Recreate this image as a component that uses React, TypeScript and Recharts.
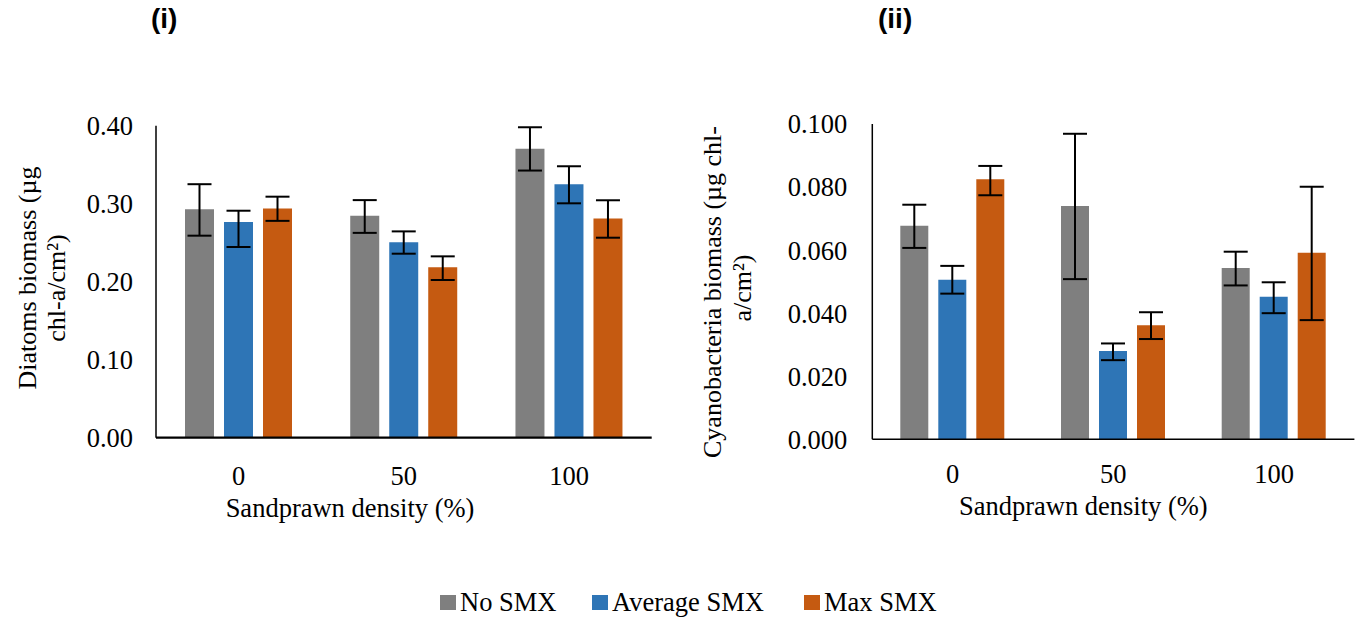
import React from 'react';
import { BarChart, Bar, XAxis, YAxis, ErrorBar, Label } from 'recharts';

// ---------- data ----------
const categories = ['0', '50', '100'];

// (i) Diatoms biomass
const diatomsNoSMX = [0.293, 0.2846, 0.3705];
const diatomsNoSMXErr = [[0.034, 0.032], [0.022, 0.020], [0.028, 0.0275]];
const diatomsAvgSMX = [0.2765, 0.2505, 0.325];
const diatomsAvgSMXErr = [[0.032, 0.0145], [0.0146, 0.014], [0.0245, 0.023]];
const diatomsMaxSMX = [0.294, 0.2185, 0.281];
const diatomsMaxSMXErr = [[0.016, 0.015], [0.0163, 0.014], [0.0246, 0.0234]];
const diatomsTicks = [0, 0.1, 0.2, 0.3, 0.4];

// (ii) Cyanobacteria biomass
const cyanoNoSMX = [0.0677, 0.074, 0.0543];
const cyanoNoSMXErr = [[0.007, 0.0067], [0.0232, 0.0229], [0.0055, 0.0052]];
const cyanoAvgSMX = [0.0506, 0.028, 0.0452];
const cyanoAvgSMXErr = [[0.0044, 0.0044], [0.0029, 0.0024], [0.0052, 0.0046]];
const cyanoMaxSMX = [0.0825, 0.0362, 0.0592];
const cyanoMaxSMXErr = [[0.0051, 0.0042], [0.0044, 0.0041], [0.0214, 0.0209]];
const cyanoTicks = [0, 0.02, 0.04, 0.06, 0.08, 0.1];

const seriesNames = ['No SMX', 'Average SMX', 'Max SMX'];
const seriesColors = ['#7f7f7f', '#2e75b6', '#c55a11'];

const diatomsData = categories.map((c, i) => ({
  cat: c,
  no: diatomsNoSMX[i], noErr: diatomsNoSMXErr[i],
  avg: diatomsAvgSMX[i], avgErr: diatomsAvgSMXErr[i],
  max: diatomsMaxSMX[i], maxErr: diatomsMaxSMXErr[i],
}));

const cyanoData = categories.map((c, i) => ({
  cat: c,
  no: cyanoNoSMX[i], noErr: cyanoNoSMXErr[i],
  avg: cyanoAvgSMX[i], avgErr: cyanoAvgSMXErr[i],
  max: cyanoMaxSMX[i], maxErr: cyanoMaxSMXErr[i],
}));

const SERIF = "'Liberation Serif', 'Times New Roman', serif";
const FS = 26.5;
const LFS = 26;

const makeYLabel = (line1: string, line2: string, x1: number, y1: number, x2: number, y2: number) =>
  () => (
    <g>
      <text x={x1} y={y1} transform={`rotate(-90, ${x1}, ${y1})`} textAnchor="middle" dominantBaseline="central"
        fontFamily={SERIF} fontSize={LFS} fill="#000">{line1}</text>
      <text x={x2} y={y2} transform={`rotate(-90, ${x2}, ${y2})`} textAnchor="middle" dominantBaseline="central"
        fontFamily={SERIF} fontSize={LFS} fill="#000">{line2}</text>
    </g>
  );

const makeXLabel = (text: string, dxFromLeft: number, baselineY: number) =>
  (props: any) => {
    const vb = props.viewBox || {};
    return (
      <text x={vb.x + dxFromLeft} y={baselineY} textAnchor="middle" fontFamily={SERIF} fontSize={FS} fill="#000">{text}</text>
    );
  };

const tickStyle = { fontFamily: SERIF, fontSize: FS, fill: '#000' };

function Panel(props: {
  data: any[]; width: number; height: number; margin: any; yWidth: number; ticks: number[]; digits: number;
  barSize: number; yLabel: any; xLabel: any; xTickMargin: number; yTickMargin: number; xStroke: number; yStroke: number;
}) {
  const keys = ['no', 'avg', 'max'];
  return (
    <BarChart width={props.width} height={props.height} data={props.data} margin={props.margin}
      barSize={props.barSize} barGap={10}>
      <XAxis dataKey="cat" tickLine={false} tickSize={0} tickMargin={props.xTickMargin} height={70}
        axisLine={{ stroke: '#000', strokeWidth: props.xStroke }} tick={tickStyle} interval={0}>
        <Label content={props.xLabel} />
      </XAxis>
      <YAxis type="number" domain={[0, props.ticks[props.ticks.length - 1]]} ticks={props.ticks} width={props.yWidth}
        tickLine={false} tickSize={0} tickMargin={props.yTickMargin} interval={0}
        axisLine={{ stroke: '#000', strokeWidth: props.yStroke }} tick={tickStyle}
        tickFormatter={(v: number) => v.toFixed(props.digits)}>
        <Label content={props.yLabel} />
      </YAxis>
      {keys.map((k, i) => (
        <Bar key={k} dataKey={k} name={seriesNames[i]} fill={seriesColors[i]} isAnimationActive={false}>
          <ErrorBar dataKey={k + 'Err'} width={12} strokeWidth={2} stroke="#000" direction="y" isAnimationActive={false} />
        </Bar>
      ))}
    </BarChart>
  );
}

const legendX = [440, 592, 804];

export default function App() {
  return (
    <div style={{ position: 'absolute', left: 0, top: 0, width: 1362, height: 617, background: '#fff', overflow: 'hidden' }}>
      <div style={{ position: 'absolute', left: 0, top: 0 }}>
        <Panel data={diatomsData} width={680} height={560}
          margin={{ top: 125.7, right: 28.3, bottom: 52.3, left: 76 }} yWidth={80}
          ticks={diatomsTicks} digits={2} barSize={29}
          yLabel={makeYLabel('Diatoms biomass (µg', 'chl-a/cm²)', 27, 278, 56, 288)}
          xLabel={makeXLabel('Sandprawn density (%)', 194, 517)}
          xTickMargin={28} yTickMargin={23} xStroke={2.2} yStroke={1.5} />
      </div>
      <div style={{ position: 'absolute', left: 680, top: 0 }}>
        <Panel data={cyanoData} width={682} height={560}
          margin={{ top: 124, right: 7.6, bottom: 50.7, left: 112.3 }} yWidth={80}
          ticks={cyanoTicks} digits={3} barSize={28}
          yLabel={makeYLabel('Cyanobacteria biomass (µg chl-', 'a/cm²)', 32, 292, 62, 288)}
          xLabel={makeXLabel('Sandprawn density (%)', 211, 515)}
          xTickMargin={25} yTickMargin={25} xStroke={1.5} yStroke={1.5} />
      </div>
      <div style={{ position: 'absolute', left: 151, top: 3, fontFamily: "'Liberation Sans', Arial, sans-serif", fontWeight: 'bold', fontSize: 28 }}>(i)</div>
      <div style={{ position: 'absolute', left: 878, top: 3, fontFamily: "'Liberation Sans', Arial, sans-serif", fontWeight: 'bold', fontSize: 28 }}>(ii)</div>
      {seriesNames.map((n, i) => (
        <div key={n} style={{ position: 'absolute', left: legendX[i], top: 587, display: 'flex', alignItems: 'center', fontFamily: SERIF, fontSize: 26.5, lineHeight: '30px' }}>
          <span style={{ display: 'inline-block', width: 16, height: 15, background: seriesColors[i], marginRight: 4 }} />
          <span>{n}</span>
        </div>
      ))}
    </div>
  );
}
